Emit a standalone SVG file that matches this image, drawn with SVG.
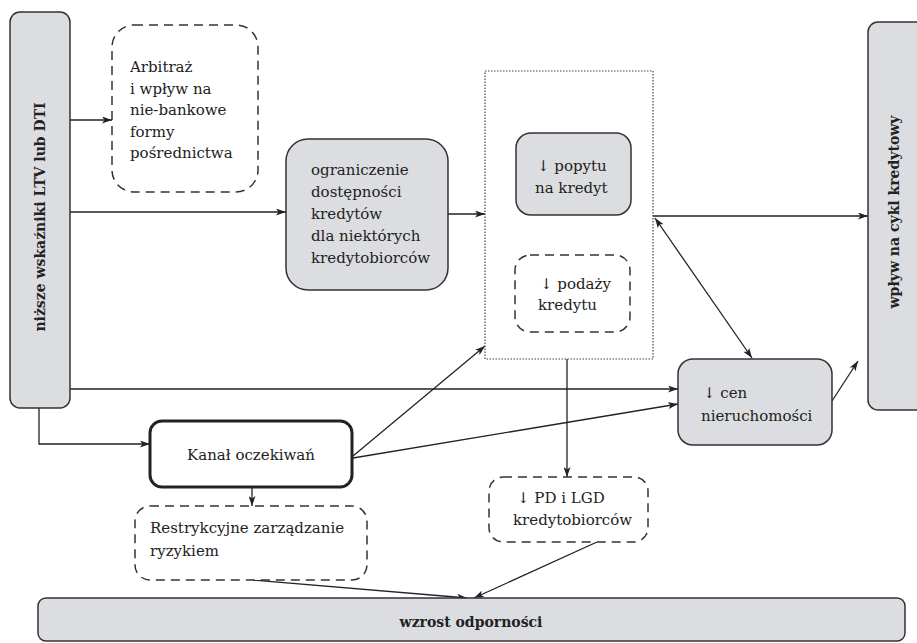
<svg xmlns="http://www.w3.org/2000/svg" width="917" height="643" viewBox="0 0 917 643">
<defs>
<marker id="ah" viewBox="0 0 10 7" refX="10" refY="3.5" markerWidth="10" markerHeight="7" markerUnits="userSpaceOnUse" orient="auto-start-reverse">
<path d="M0,0 L10,3.5 L0,7 L2.5,3.5 z" fill="#222"/>
</marker>
<style>
.g{fill:#dcdde0;stroke:#333;stroke-width:1.5}
.d{fill:#fff;stroke:#333;stroke-width:1.5;stroke-dasharray:9 6}
.dot{fill:none;stroke:#444;stroke-width:1.2;stroke-dasharray:1.5 1.5}
.k{fill:#fff;stroke:#222;stroke-width:3}
.t{font-family:"DejaVu Serif","Liberation Serif",serif;font-size:15px;fill:#222}
.b{font-family:"DejaVu Serif","Liberation Serif",serif;font-size:14px;font-weight:bold;fill:#222}
.c{fill:none;stroke:#222;stroke-width:1.3;marker-end:url(#ah)}
</style>
</defs>
<g id="connectors">
<line class="c" x1="70" y1="120" x2="112" y2="120"/>
<line class="c" x1="70" y1="212" x2="286" y2="212"/>
<line class="c" x1="448" y1="214" x2="485" y2="214"/>
<line class="c" x1="653" y1="216" x2="868" y2="216"/>
<line class="c" x1="655" y1="218" x2="752" y2="358" style="marker-start:url(#ah)"/>
<line class="c" x1="832" y1="401" x2="858" y2="361"/>
<line class="c" x1="70" y1="389" x2="678" y2="389"/>
<polyline class="c" points="39,408 39,444 150,444"/>
<line class="c" x1="353" y1="456" x2="485" y2="346"/>
<line class="c" x1="353" y1="458" x2="678" y2="404"/>
<line class="c" x1="252" y1="487" x2="252" y2="506"/>
<line class="c" x1="567" y1="359" x2="567" y2="477"/>
<line class="c" x1="253" y1="580" x2="467" y2="598"/>
<line class="c" x1="597" y1="542" x2="474" y2="598"/>
</g>
<g id="left-bar">
<rect class="g" x="10" y="12" width="60" height="396" rx="10"/>
<text class="b" transform="translate(45,217) rotate(-90)" text-anchor="middle">niższe wskaźniki LTV lub DTI</text>
</g>
<g id="right-bar">
<rect class="g" x="868" y="22" width="60" height="388" rx="10"/>
<text class="b" transform="translate(899,212) rotate(-90)" text-anchor="middle">wpływ na cykl kredytowy</text>
</g>
<g id="arbitraz">
<rect class="d" x="112" y="25" width="146" height="167" rx="22"/>
<text class="t" x="130" y="72">Arbitraż</text>
<text class="t" x="130" y="93.5">i wpływ na</text>
<text class="t" x="130" y="115">nie-bankowe</text>
<text class="t" x="130" y="136.5">formy</text>
<text class="t" x="130" y="158">pośrednictwa</text>
</g>
<g id="ograniczenie">
<rect class="g" x="286" y="139" width="162" height="151" rx="22"/>
<text class="t" x="311" y="175">ograniczenie</text>
<text class="t" x="311" y="197">dostępności</text>
<text class="t" x="311" y="219">kredytów</text>
<text class="t" x="311" y="241">dla niektórych</text>
<text class="t" x="311" y="263">kredytobiorców</text>
</g>
<g id="kanal-kredytowy">
<rect class="dot" x="485" y="71" width="168" height="288"/>
</g>
<g id="popyt">
<rect class="g" x="516" y="133" width="115" height="82" rx="15"/>
<text class="t" x="537" y="171">↓ popytu</text>
<text class="t" x="535" y="193">na kredyt</text>
</g>
<g id="podaz">
<rect class="d" x="515" y="255" width="115" height="77" rx="15"/>
<text class="t" x="540" y="289">↓ podaży</text>
<text class="t" x="538" y="310">kredytu</text>
</g>
<g id="ceny">
<rect class="g" x="678" y="359" width="154" height="86" rx="15"/>
<text class="t" x="703" y="398">↓ cen</text>
<text class="t" x="701" y="421">nieruchomości</text>
</g>
<g id="kanal-oczekiwan">
<rect class="k" x="150" y="421" width="202" height="66" rx="12"/>
<text class="t" x="251" y="460" text-anchor="middle">Kanał oczekiwań</text>
</g>
<g id="restrykcyjne">
<rect class="d" x="135" y="506" width="232" height="74" rx="15"/>
<text class="t" x="150" y="533">Restrykcyjne zarządzanie</text>
<text class="t" x="150" y="556">ryzykiem</text>
</g>
<g id="pd-lgd">
<rect class="d" x="489" y="477" width="159" height="65" rx="14"/>
<text class="t" x="517" y="503">↓ PD i LGD</text>
<text class="t" x="513" y="525">kredytobiorców</text>
</g>
<g id="wzrost">
<rect class="g" x="38" y="598" width="867" height="43" rx="8"/>
<text class="b" x="471" y="627" text-anchor="middle">wzrost odporności</text>
</g>
</svg>
